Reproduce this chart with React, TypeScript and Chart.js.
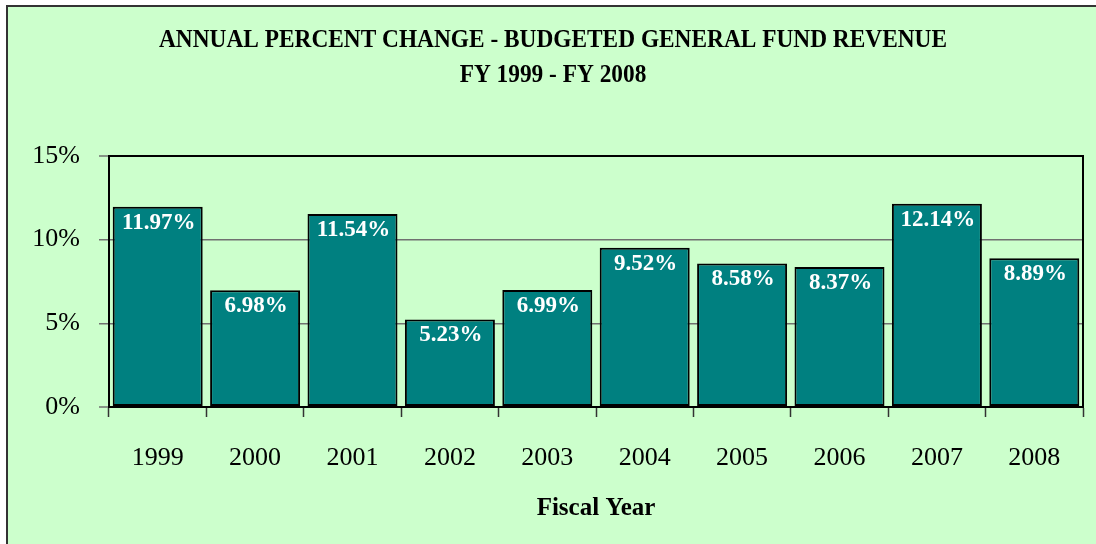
import React, { useEffect, useRef } from 'react';
import { Chart, registerables } from 'chart.js';

Chart.register(...registerables);

const years: string[] = ['1999', '2000', '2001', '2002', '2003', '2004', '2005', '2006', '2007', '2008'];
const percentChange: number[] = [11.97, 6.98, 11.54, 5.23, 6.99, 9.52, 8.58, 8.37, 12.14, 8.89];
const yTickValues: number[] = [0, 5, 10, 15];
const titleLines: string[] = ['ANNUAL PERCENT CHANGE - BUDGETED GENERAL FUND REVENUE', 'FY 1999 - FY 2008'];
const xAxisTitle = 'Fiscal Year';

const SERIF = '"Liberation Serif", "Times New Roman", serif';
const BG = '#CCFFCC';
const BAR = '#008080';

const backgroundPlugin = {
  id: 'pageBackground',
  beforeDraw(chart: any) {
    const { ctx, width, height } = chart;
    ctx.save();
    ctx.fillStyle = '#ffffff';
    ctx.fillRect(0, 0, width, height);
    ctx.fillStyle = '#333333';
    ctx.fillRect(6, 5, width - 6, height - 5);
    ctx.fillStyle = BG;
    ctx.fillRect(8, 7, width - 8, height - 7);
    ctx.restore();
  },
};

const framePlugin = {
  id: 'plotFrame',
  beforeDatasetsDraw(chart: any) {
    const { ctx, chartArea } = chart;
    ctx.save();
    ctx.strokeStyle = '#000000';
    ctx.lineWidth = 2;
    ctx.strokeRect(chartArea.left, chartArea.top, chartArea.right - chartArea.left, chartArea.bottom - chartArea.top);
    ctx.restore();
  },
};

const barLabelPlugin = {
  id: 'barLabels',
  afterDatasetsDraw(chart: any) {
    const { ctx } = chart;
    const meta = chart.getDatasetMeta(0);
    const data = chart.data.datasets[0].data as number[];
    ctx.save();
    ctx.fillStyle = '#ffffff';
    ctx.font = `bold 23px ${SERIF}`;
    ctx.textAlign = 'center';
    ctx.textBaseline = 'middle';
    meta.data.forEach((bar: any, i: number) => {
      ctx.fillText(`${data[i].toFixed(2)}%`, bar.x + 1, bar.y + 16);
    });
    ctx.restore();
  },
};

const titlePlugin = {
  id: 'condensedTitle',
  afterDraw(chart: any) {
    const { ctx } = chart;
    ctx.save();
    ctx.fillStyle = '#000000';
    ctx.font = `bold 25px ${SERIF}`;
    ctx.textAlign = 'center';
    ctx.textBaseline = 'alphabetic';
    const w = ctx.measureText(titleLines[0]).width;
    const s = Math.min(1, 788 / w);
    const baselines = [47, 82];
    titleLines.forEach((line, i) => {
      ctx.save();
      ctx.translate(553, baselines[i]);
      ctx.scale(s, 1);
      ctx.fillText(line, 0, 0);
      ctx.restore();
    });
    ctx.restore();
  },
};

export default function App() {
  const canvasRef = useRef<HTMLCanvasElement | null>(null);

  useEffect(() => {
    if (!canvasRef.current) return;
    const chart = new Chart(canvasRef.current, {
      type: 'bar',
      data: {
        labels: years,
        datasets: [
          {
            data: percentChange,
            backgroundColor: BAR,
            borderColor: '#000000',
            borderWidth: 2,
            borderSkipped: false,
            barPercentage: 0.924,
            categoryPercentage: 1,
          },
        ],
      },
      options: {
        animation: false,
        responsive: false,
        maintainAspectRatio: false,
        devicePixelRatio: 1,
        layout: { padding: { left: 15, top: 156, right: 13, bottom: 0 } },
        plugins: {
          legend: { display: false },
          tooltip: { enabled: false },
          title: { display: false },
        },
        scales: {
          x: {
            grid: {
              display: true,
              offset: true,
              drawOnChartArea: false,
              drawTicks: true,
              tickLength: 10,
              tickColor: '#333333',
              tickWidth: 1.5,
            },
            border: { color: '#000000', width: 2 },
            ticks: {
              color: '#000000',
              font: { family: SERIF, size: 26 },
              padding: 26,
              maxRotation: 0,
            },
            title: {
              display: true,
              text: xAxisTitle,
              color: '#000000',
              font: { family: SERIF, size: 25, weight: 'bold' },
              padding: { top: 0, bottom: 20 },
            },
            afterFit: (scale: any) => {
              scale.height = 137;
            },
          },
          y: {
            min: 0,
            max: 15,
            afterBuildTicks: (scale: any) => {
              scale.ticks = yTickValues.map((v) => ({ value: v }));
            },
            grid: {
              color: (c: any) => (c.tick && (c.tick.value === 15 || c.tick.value === 0) ? '#000000' : '#707070'),
              lineWidth: (c: any) => (c.tick && (c.tick.value === 15 || c.tick.value === 0) ? 2 : 1.5),
              drawTicks: true,
              tickLength: 10,
              tickColor: '#707070',
              tickWidth: 1.5,
            },
            border: { color: '#000000', width: 2 },
            ticks: {
              color: '#000000',
              font: { family: SERIF, size: 26 },
              padding: 19,
              callback: (v: any) => `${v}%`,
            },
            afterFit: (scale: any) => {
              scale.width = 94;
            },
          },
        },
      },
      plugins: [backgroundPlugin, framePlugin, barLabelPlugin, titlePlugin],
    });
    return () => chart.destroy();
  }, []);

  return (
    <div style={{ position: 'fixed', left: 0, top: 0, width: 1096, height: 544 }}>
      <canvas ref={canvasRef} width={1096} height={544} style={{ display: 'block', width: 1096, height: 544 }} />
    </div>
  );
}
